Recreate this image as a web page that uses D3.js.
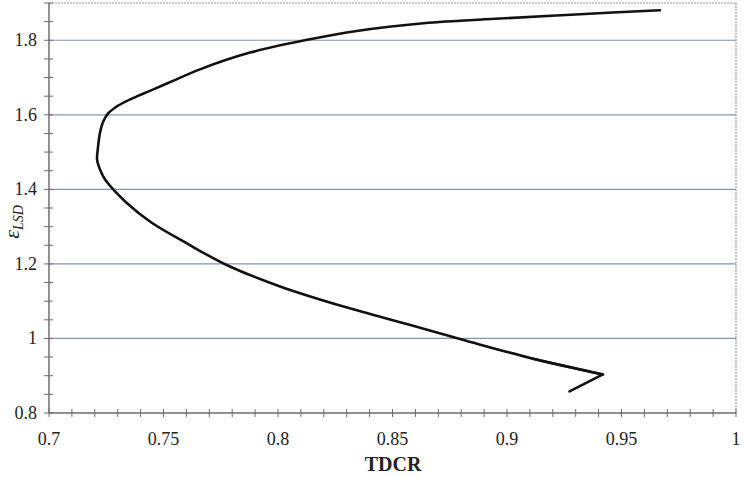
<!DOCTYPE html>
<html><head><meta charset="utf-8">
<script src="https://cdn.jsdelivr.net/npm/d3@7"></script>
<style>body{margin:0;background:#fff}svg{display:block}</style>
</head><body>
<svg id="c" width="745" height="477"></svg>
<script>
const tdcr = [0.9273,0.9419,0.9109,0.8818,0.8582,0.8286,0.8006,0.7769,0.7593,0.7447,0.7341,0.7245,0.7223,0.7210,0.7213,0.7223,0.7236,0.7258,0.7293,0.7336,0.7389,0.7441,0.7541,0.7659,0.7878,0.8140,0.8344,0.8635,0.8969,0.9319,0.9668];
const eLSD = [0.8578,0.9035,0.9465,0.9946,1.0355,1.0855,1.1401,1.1992,1.2583,1.3110,1.3626,1.4263,1.4530,1.4800,1.5070,1.5530,1.5806,1.6038,1.6212,1.6360,1.6508,1.6642,1.6911,1.7220,1.7669,1.8027,1.8250,1.8457,1.8583,1.8700,1.8806];
const xTicks = [0.7,0.75,0.8,0.85,0.9,0.95,1];
const xTickLabels = ["0.7","0.75","0.8","0.85","0.9","0.95","1"];
const yTicks = [0.8,1,1.2,1.4,1.6,1.8];
const yTickLabels = ["0.8","1","1.2","1.4","1.6","1.8"];
const xLabel = "TDCR";

const svg = d3.select("#c");
const L=49,R=736,T=3,B=413;
const x = d3.scaleLinear().domain([0.7,1]).range([L,R]);
const y = d3.scaleLinear().domain([0.8,1.9]).range([B,T]);
const serif = "'Liberation Serif','Times New Roman',serif";

// gridlines
svg.append("g").selectAll("line").data(yTicks.filter(d=>d>0.8)).join("line")
  .attr("x1",L).attr("x2",R).attr("y1",d=>y(d)).attr("y2",d=>y(d))
  .attr("stroke","#8a96a3").attr("stroke-width",1.2);

// border top/right
svg.append("path").attr("d",`M${L},${T}H${R}V${B}`).attr("fill","none")
  .attr("stroke","#9a9a9a").attr("stroke-width",1.2).attr("stroke-dasharray","2,1");

// axes
const minorX = d3.range(0.70,1.0001,0.01);
const minorY = d3.range(0.8,1.9001,0.05);
const gx = svg.append("g").attr("transform",`translate(0,${B})`);
gx.append("line").attr("x1",L).attr("x2",R).attr("stroke","#6e6a72").attr("stroke-width",1.5);
gx.selectAll("line.t").data(minorX).join("line").attr("class","t")
  .attr("x1",d=>x(d)).attr("x2",d=>x(d)).attr("y1",-4).attr("y2",4)
  .attr("stroke","#6e6a72").attr("stroke-width",1);
gx.selectAll("text").data(xTicks).join("text")
  .attr("x",d=>x(d)).attr("y",32).attr("text-anchor","middle")
  .attr("font-family",serif).attr("font-size",18).attr("fill","#222")
  .text((d,i)=>xTickLabels[i]);

const gy = svg.append("g").attr("transform",`translate(${L},0)`);
gy.append("line").attr("y1",T).attr("y2",B).attr("stroke","#6e6a72").attr("stroke-width",1.5);
gy.selectAll("line.t").data(minorY).join("line").attr("class","t")
  .attr("y1",d=>y(d)).attr("y2",d=>y(d)).attr("x1",-5).attr("x2",4)
  .attr("stroke","#6e6a72").attr("stroke-width",1);
gy.selectAll("text").data(yTicks).join("text")
  .attr("x",-12).attr("y",d=>y(d)+6).attr("text-anchor","end")
  .attr("font-family",serif).attr("font-size",18).attr("fill","#222")
  .text((d,i)=>yTickLabels[i]);

// axis titles
svg.append("text").attr("x",393).attr("y",471).attr("text-anchor","middle")
  .attr("font-family",serif).attr("font-size",20).attr("font-weight","bold").attr("fill","#222")
  .text(xLabel);
const yl = svg.append("text").attr("transform","translate(19,222) rotate(-90)")
  .attr("text-anchor","middle").attr("font-family",serif).attr("font-style","italic").attr("fill","#222");
yl.append("tspan").attr("font-size",22).text("ε");
yl.append("tspan").attr("font-size",14).attr("dy",4).text("LSD");

// curve: sharp corner at the second point, smooth elsewhere
const pts = tdcr.map((d,i)=>[d,eLSD[i]]);
const lineLin = d3.line().x(d=>x(d[0])).y(d=>y(d[1]));
const lineSm = d3.line().x(d=>x(d[0])).y(d=>y(d[1])).curve(d3.curveCatmullRom.alpha(0.5));
const g = svg.append("g").attr("fill","none").attr("stroke","#111").attr("stroke-width",2.6)
  .attr("stroke-linejoin","round").attr("stroke-linecap","round");
g.append("path").attr("d",lineLin(pts.slice(0,3)));
g.append("path").attr("d",lineSm(pts.slice(1)));
</script>
</body></html>
